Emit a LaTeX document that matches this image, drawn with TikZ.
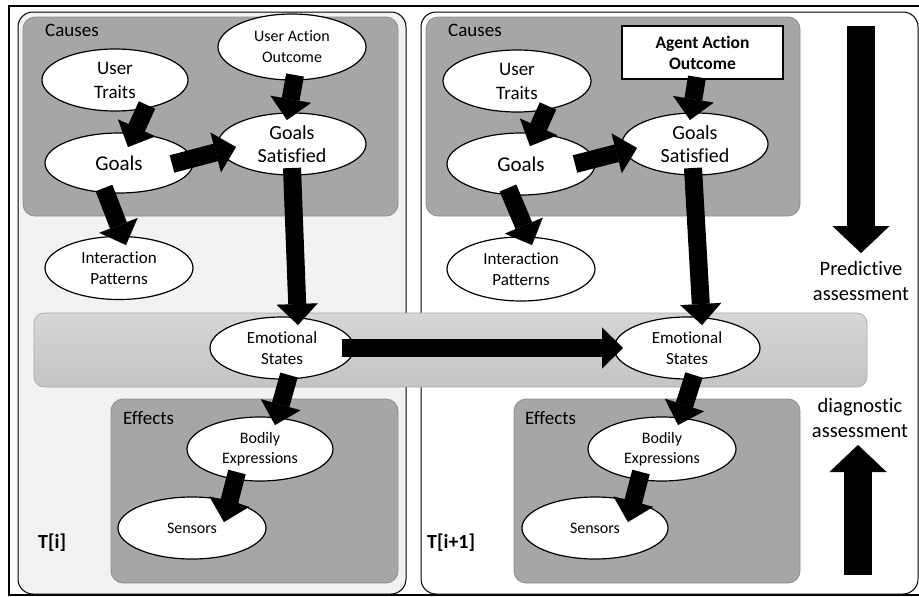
\documentclass[tikz,border=0pt]{standalone}
\usepackage{fontspec}
\setmainfont{Carlito}[Ligatures={NoCommon}]
\usetikzlibrary{shapes.geometric,arrows.meta,calc}
\definecolor{panelgray}{HTML}{F2F2F2}
\definecolor{boxgray}{HTML}{A6A6A6}
\definecolor{boxedge}{HTML}{8E8E8E}
\definecolor{bandtop}{HTML}{D6D6D6}
\definecolor{bandbot}{HTML}{C4C4C4}
\definecolor{bandedge}{HTML}{A8A8A8}
\newcommand\setfs[2]{\fontsize{#1}{#2}\selectfont}

\begin{document}
\begin{tikzpicture}[x=1pt,y=-1pt,
  bubble/.style={ellipse, draw=black, fill=white, line width=1.2pt,
    inner sep=0pt, align=center},
  slice/.style={draw=black, line width=1pt, rounded corners=15pt},
  groupbox/.style={draw=boxedge, fill=boxgray, line width=0.8pt, rounded corners=12pt},
  grouplabel/.style={anchor=west, inner sep=0pt, font=\setfs{19}{22}},
  timelabel/.style={anchor=west, inner sep=0pt, font=\setfs{20}{22}\bfseries},
  sidelabel/.style={align=center, inner sep=0pt, font=\setfs{20.5}{25}},
  flow/.style={line width=18pt, -{Triangle[length=21pt,width=41pt,line width=0.1pt]}},
  bigflow/.style={line width=28pt, -{Triangle[length=27pt,width=57pt,line width=0.1pt]}}
]
\useasboundingbox (0,0) rectangle (919,597);
\fill[white] (0,0) rectangle (919,597);
\draw[line width=1.5pt] (919,6) -- (9,6) -- (9,595) -- (919,595);

% the two time slices
\draw[slice, fill=panelgray] (18,12) rectangle (406,594);
\draw[slice, fill=white] (421,12) rectangle (918,594);

% cause and effect groups
\draw[groupbox] (23,17) rectangle (398,216);
\draw[groupbox] (426,17) rectangle (800,216);
\draw[groupbox] (111,399) rectangle (398,583);
\draw[groupbox] (514,399) rectangle (800,583);

% band holding the emotional states
\shade[top color=bandtop, bottom color=bandbot, draw=bandedge, line width=0.6pt,
  rounded corners=10pt] (34,313) rectangle (867,387);

\node[grouplabel] (causesA) at (45,30) {Causes};
\node[grouplabel] (causesB) at (448,30) {Causes};
\node[grouplabel] (effectsA) at (123,418) {Effects};
\node[grouplabel] (effectsB) at (525,418) {Effects};
\node[timelabel] (tA) at (38,543) {T[i]};
\node[timelabel] (tB) at (427,543) {T[i+1]};

% slice T[i]
\node[bubble, minimum width=146pt, minimum height=62pt, font=\setfs{19}{24}] (ut1) at (115,80) {User\\Traits};
\node[bubble, minimum width=148pt, minimum height=66pt, font=\setfs{16}{21}] (uao1) at (292,47) {User Action\\Outcome};
\node[bubble, minimum width=148pt, minimum height=60pt, font=\setfs{21}{24}] (g1) at (119,163) {Goals};
\node[bubble, minimum width=148pt, minimum height=62pt, font=\setfs{20}{23}] (gs1) at (292,144) {Goals\\Satisfied};
\node[bubble, minimum width=148pt, minimum height=63pt, font=\setfs{17}{21}] (ip1) at (119,268) {Interaction\\Patterns};
\node[bubble, minimum width=144pt, minimum height=62pt, font=\setfs{17}{21}] (es1) at (282,348) {Emotional\\States};
\node[bubble, minimum width=146pt, minimum height=64pt, font=\setfs{16}{20}] (be1) at (260,449) {Bodily\\Expressions};
\node[bubble, minimum width=148pt, minimum height=62pt, font=\setfs{16}{20}] (se1) at (192,528) {Sensors};

% slice T[i+1]
\node[bubble, minimum width=148pt, minimum height=62pt, font=\setfs{19}{24}] (ut2) at (517,81) {User\\Traits};
\node[draw=black, fill=white, line width=1.2pt, minimum width=161pt, minimum height=53pt,
  inner sep=0pt, align=center, font=\setfs{17.5}{21}\bfseries] (aao2) at (702.5,52.5) {Agent Action\\Outcome};
\node[bubble, minimum width=148pt, minimum height=62pt, font=\setfs{21}{24}] (g2) at (521,164) {Goals};
\node[bubble, minimum width=146pt, minimum height=62pt, font=\setfs{20}{23}] (gs2) at (695,144) {Goals\\Satisfied};
\node[bubble, minimum width=148pt, minimum height=64pt, font=\setfs{17}{21}] (ip2) at (521,269) {Interaction\\Patterns};
\node[bubble, minimum width=146pt, minimum height=62pt, font=\setfs{17}{21}] (es2) at (687,348) {Emotional\\States};
\node[bubble, minimum width=148pt, minimum height=64pt, font=\setfs{16}{20}] (be2) at (662,449) {Bodily\\Expressions};
\node[bubble, minimum width=146pt, minimum height=62pt, font=\setfs{16}{20}] (se2) at (595,528) {Sensors};

% causal links, slice T[i]
\draw[flow] ($(ut1)+(32,25)$) -- ($(g1)+(9,-16)$);
\draw[flow] ($(uao1)+(3,28)$) -- ($(gs1)+(-5,-24)$);
\draw[flow] ($(g1)+(53,1)$) -- ($(gs1)+(-56,3)$);
\draw[flow] ($(g1)+(-15,25)$) -- ($(ip1)+(7,-23)$);
\draw[flow] ($(gs1)+(0,24)$) -- ($(es1)+(16,-23)$);
\draw[flow] ($(es1)+(7,27)$) -- ($(be1)+(15,-24)$);
\draw[flow] ($(be1)+(-23,23)$) -- ($(se1)+(32,-6)$);

% emotional state carried over in time
\draw[flow] ($(es1)+(60,0)$) -- ($(es2)+(-64,0)$);

% causal links, slice T[i+1]
\draw[flow] ($(ut2)+(31,25)$) -- ($(g2)+(9,-18)$);
\draw[flow] ($(aao2)+(-5.5,24.5)$) -- ($(gs2)+(-5,-24)$);
\draw[flow] ($(g2)+(54,0)$) -- ($(gs2)+(-58,4)$);
\draw[flow] ($(g2)+(-13,24)$) -- ($(ip2)+(11,-24)$);
\draw[flow] ($(gs2)+(-2,24)$) -- ($(es2)+(15,-23)$);
\draw[flow] ($(es2)+(7,27)$) -- ($(be2)+(16,-24)$);
\draw[flow] ($(be2)+(-21,23)$) -- ($(se2)+(33,-6)$);

% direction of assessment
\coordinate (predTop) at (861,26);
\coordinate (predTip) at (861,253);
\draw[bigflow] (predTop) -- (predTip);
\node[sidelabel] (pred) at (861,281) {Predictive\\assessment};

\coordinate (diagBot) at (858,575);
\coordinate (diagTip) at (858,445);
\draw[bigflow] (diagBot) -- (diagTip);
\node[sidelabel] (diag) at (860,418) {diagnostic\\assessment};
\end{tikzpicture}
\end{document}
